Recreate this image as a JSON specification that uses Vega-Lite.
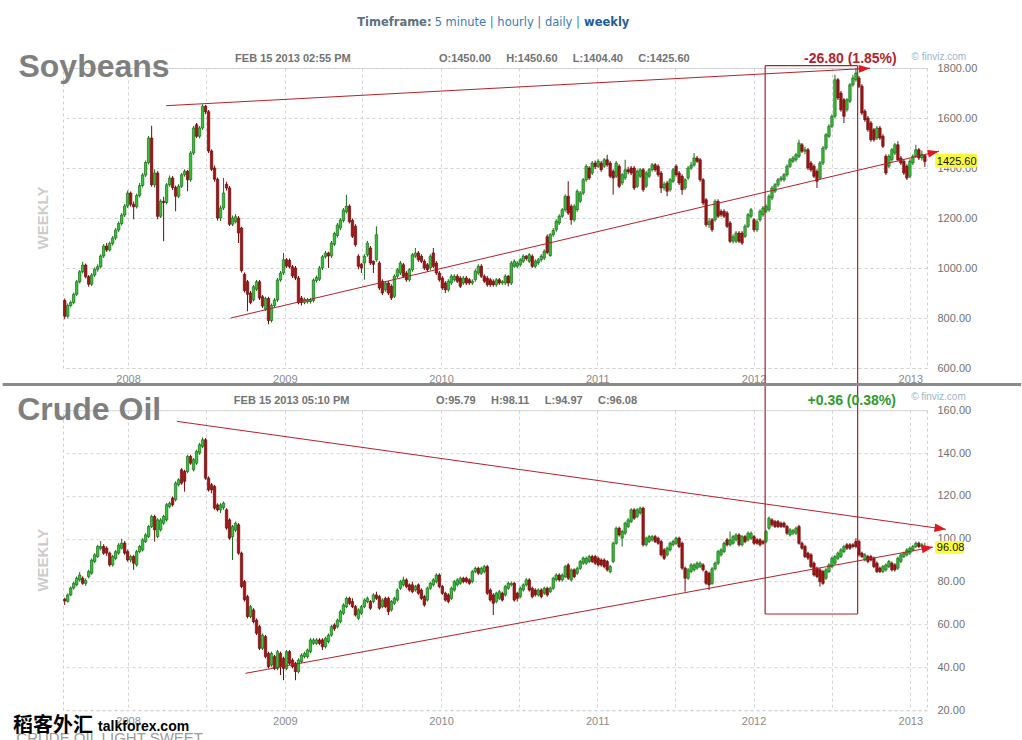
{
"$schema":"https://vega.github.io/schema/vega-lite/v6.json",
"padding":{"left":0,"top":16,"right":0,"bottom":0},
"background":"white",
"bounds":"flush",
"spacing":42.2,
"config":{"view":{"stroke":"#cfcfcf","strokeDash":[3,3],"strokeWidth":1}},
"datasets":{
"soy":[
{"d":"2007-08-06","o":870,"h":878,"l":795,"c":807},
{"d":"2007-08-13","o":807,"h":858,"l":800,"c":850},
{"d":"2007-08-20","o":850,"h":870,"l":842,"c":862},
{"d":"2007-08-27","o":862,"h":902,"l":855,"c":895},
{"d":"2007-09-03","o":895,"h":952,"l":888,"c":945},
{"d":"2007-09-10","o":945,"h":992,"l":938,"c":985},
{"d":"2007-09-17","o":985,"h":1025,"l":978,"c":1012},
{"d":"2007-09-24","o":1012,"h":1018,"l":958,"c":965},
{"d":"2007-10-01","o":965,"h":972,"l":925,"c":935},
{"d":"2007-10-08","o":935,"h":980,"l":928,"c":972},
{"d":"2007-10-15","o":972,"h":1002,"l":964,"c":995},
{"d":"2007-10-22","o":995,"h":1015,"l":985,"c":1005},
{"d":"2007-10-29","o":1005,"h":1055,"l":998,"c":1048},
{"d":"2007-11-05","o":1048,"h":1096,"l":1040,"c":1088},
{"d":"2007-11-12","o":1088,"h":1100,"l":1064,"c":1072},
{"d":"2007-11-19","o":1072,"h":1106,"l":1066,"c":1098},
{"d":"2007-11-26","o":1098,"h":1128,"l":1090,"c":1120},
{"d":"2007-12-03","o":1120,"h":1160,"l":1112,"c":1152},
{"d":"2007-12-10","o":1152,"h":1186,"l":1144,"c":1178},
{"d":"2007-12-17","o":1178,"h":1220,"l":1170,"c":1212},
{"d":"2007-12-24","o":1212,"h":1256,"l":1204,"c":1248},
{"d":"2007-12-31","o":1248,"h":1310,"l":1240,"c":1300},
{"d":"2008-01-07","o":1300,"h":1306,"l":1246,"c":1255},
{"d":"2008-01-14","o":1255,"h":1266,"l":1195,"c":1245},
{"d":"2008-01-21","o":1245,"h":1298,"l":1238,"c":1290},
{"d":"2008-01-28","o":1290,"h":1340,"l":1282,"c":1330},
{"d":"2008-02-04","o":1330,"h":1380,"l":1322,"c":1372},
{"d":"2008-02-11","o":1372,"h":1430,"l":1364,"c":1422},
{"d":"2008-02-18","o":1422,"h":1528,"l":1414,"c":1520},
{"d":"2008-02-25","o":1520,"h":1569,"l":1325,"c":1333},
{"d":"2008-03-03","o":1333,"h":1395,"l":1322,"c":1380},
{"d":"2008-03-10","o":1380,"h":1388,"l":1195,"c":1207},
{"d":"2008-03-17","o":1207,"h":1275,"l":1200,"c":1267},
{"d":"2008-03-24","o":1267,"h":1285,"l":1107,"c":1262},
{"d":"2008-03-31","o":1262,"h":1340,"l":1255,"c":1333},
{"d":"2008-04-07","o":1333,"h":1370,"l":1325,"c":1360},
{"d":"2008-04-14","o":1360,"h":1368,"l":1312,"c":1322},
{"d":"2008-04-21","o":1322,"h":1330,"l":1227,"c":1287},
{"d":"2008-04-28","o":1287,"h":1335,"l":1280,"c":1327},
{"d":"2008-05-05","o":1327,"h":1380,"l":1320,"c":1373},
{"d":"2008-05-12","o":1373,"h":1395,"l":1365,"c":1387},
{"d":"2008-05-19","o":1387,"h":1392,"l":1307,"c":1353},
{"d":"2008-05-26","o":1353,"h":1468,"l":1345,"c":1460},
{"d":"2008-06-02","o":1460,"h":1568,"l":1452,"c":1560},
{"d":"2008-06-09","o":1573,"h":1580,"l":1520,"c":1527},
{"d":"2008-06-16","o":1527,"h":1568,"l":1518,"c":1560},
{"d":"2008-06-23","o":1560,"h":1655,"l":1552,"c":1647},
{"d":"2008-06-30","o":1647,"h":1652,"l":1615,"c":1625},
{"d":"2008-07-07","o":1625,"h":1632,"l":1460,"c":1468},
{"d":"2008-07-14","o":1468,"h":1475,"l":1388,"c":1395},
{"d":"2008-07-21","o":1400,"h":1410,"l":1345,"c":1355},
{"d":"2008-07-28","o":1355,"h":1362,"l":1190,"c":1200},
{"d":"2008-08-04","o":1200,"h":1250,"l":1188,"c":1240},
{"d":"2008-08-11","o":1240,"h":1360,"l":1232,"c":1300},
{"d":"2008-08-18","o":1335,"h":1345,"l":1310,"c":1320},
{"d":"2008-08-25","o":1320,"h":1328,"l":1168,"c":1175},
{"d":"2008-09-01","o":1175,"h":1210,"l":1168,"c":1200},
{"d":"2008-09-08","o":1185,"h":1215,"l":1178,"c":1205},
{"d":"2008-09-15","o":1200,"h":1208,"l":1100,"c":1140},
{"d":"2008-09-22","o":1160,"h":1165,"l":982,"c":990},
{"d":"2008-09-29","o":975,"h":982,"l":902,"c":910},
{"d":"2008-10-06","o":945,"h":952,"l":827,"c":895},
{"d":"2008-10-13","o":900,"h":908,"l":855,"c":862},
{"d":"2008-10-20","o":873,"h":932,"l":866,"c":925},
{"d":"2008-10-27","o":915,"h":952,"l":908,"c":945},
{"d":"2008-11-03","o":945,"h":952,"l":872,"c":880},
{"d":"2008-11-10","o":885,"h":892,"l":840,"c":848},
{"d":"2008-11-17","o":835,"h":885,"l":828,"c":878},
{"d":"2008-11-24","o":878,"h":885,"l":775,"c":790},
{"d":"2008-12-01","o":790,"h":858,"l":782,"c":850},
{"d":"2008-12-08","o":850,"h":880,"l":842,"c":872},
{"d":"2008-12-15","o":872,"h":960,"l":865,"c":952},
{"d":"2008-12-22","o":952,"h":988,"l":945,"c":980},
{"d":"2008-12-29","o":980,"h":1060,"l":972,"c":1033},
{"d":"2009-01-05","o":1033,"h":1040,"l":1000,"c":1008},
{"d":"2009-01-12","o":1030,"h":1038,"l":998,"c":1005},
{"d":"2009-01-19","o":1005,"h":1012,"l":960,"c":968},
{"d":"2009-01-26","o":1000,"h":1008,"l":952,"c":960},
{"d":"2009-02-02","o":960,"h":968,"l":855,"c":862},
{"d":"2009-02-09","o":880,"h":888,"l":850,"c":862},
{"d":"2009-02-16","o":862,"h":882,"l":855,"c":875},
{"d":"2009-02-23","o":865,"h":880,"l":858,"c":873},
{"d":"2009-03-02","o":866,"h":880,"l":858,"c":872},
{"d":"2009-03-09","o":870,"h":958,"l":862,"c":952},
{"d":"2009-03-16","o":950,"h":970,"l":942,"c":962},
{"d":"2009-03-23","o":955,"h":1008,"l":948,"c":1000},
{"d":"2009-03-30","o":1000,"h":1052,"l":992,"c":1045},
{"d":"2009-04-06","o":1045,"h":1068,"l":1038,"c":1060},
{"d":"2009-04-13","o":1060,"h":1065,"l":1000,"c":1048},
{"d":"2009-04-20","o":1048,"h":1108,"l":1040,"c":1100},
{"d":"2009-04-27","o":1095,"h":1145,"l":1088,"c":1138},
{"d":"2009-05-04","o":1130,"h":1180,"l":1122,"c":1172},
{"d":"2009-05-11","o":1160,"h":1200,"l":1152,"c":1192},
{"d":"2009-05-18","o":1190,"h":1240,"l":1182,"c":1232},
{"d":"2009-05-25","o":1225,"h":1293,"l":1218,"c":1247},
{"d":"2009-06-01","o":1247,"h":1255,"l":1178,"c":1185},
{"d":"2009-06-08","o":1190,"h":1198,"l":1120,"c":1127},
{"d":"2009-06-15","o":1167,"h":1175,"l":1085,"c":1093},
{"d":"2009-06-22","o":1047,"h":1055,"l":995,"c":1007},
{"d":"2009-06-29","o":1015,"h":1020,"l":980,"c":1000},
{"d":"2009-07-06","o":1020,"h":1055,"l":953,"c":1047},
{"d":"2009-07-13","o":1053,"h":1108,"l":1045,"c":1100},
{"d":"2009-07-20","o":1080,"h":1088,"l":1012,"c":1020},
{"d":"2009-07-27","o":1027,"h":1030,"l":980,"c":1015},
{"d":"2009-08-03","o":1033,"h":1167,"l":1025,"c":1133},
{"d":"2009-08-10","o":1020,"h":1028,"l":912,"c":920},
{"d":"2009-08-17","o":947,"h":955,"l":892,"c":900},
{"d":"2009-08-24","o":913,"h":948,"l":905,"c":940},
{"d":"2009-08-31","o":940,"h":948,"l":892,"c":900},
{"d":"2009-09-07","o":927,"h":935,"l":872,"c":880},
{"d":"2009-09-14","o":887,"h":975,"l":880,"c":967},
{"d":"2009-09-21","o":967,"h":1000,"l":960,"c":993},
{"d":"2009-09-28","o":980,"h":1028,"l":972,"c":1020},
{"d":"2009-10-05","o":1013,"h":1020,"l":960,"c":967},
{"d":"2009-10-12","o":980,"h":988,"l":945,"c":953},
{"d":"2009-10-19","o":953,"h":1000,"l":945,"c":993},
{"d":"2009-10-26","o":993,"h":1060,"l":985,"c":1053},
{"d":"2009-11-02","o":1047,"h":1080,"l":1040,"c":1060},
{"d":"2009-11-09","o":1060,"h":1068,"l":1025,"c":1033},
{"d":"2009-11-16","o":1047,"h":1055,"l":1020,"c":1027},
{"d":"2009-11-23","o":1027,"h":1035,"l":992,"c":1000},
{"d":"2009-11-30","o":1013,"h":1020,"l":985,"c":993},
{"d":"2009-12-07","o":1000,"h":1055,"l":992,"c":1047},
{"d":"2009-12-14","o":1060,"h":1080,"l":1000,"c":1007},
{"d":"2009-12-21","o":1020,"h":1028,"l":972,"c":980},
{"d":"2009-12-28","o":980,"h":988,"l":945,"c":953},
{"d":"2010-01-04","o":960,"h":968,"l":912,"c":920},
{"d":"2010-01-11","o":940,"h":948,"l":900,"c":913},
{"d":"2010-01-18","o":913,"h":955,"l":905,"c":947},
{"d":"2010-01-25","o":940,"h":975,"l":932,"c":967},
{"d":"2010-02-01","o":953,"h":975,"l":945,"c":967},
{"d":"2010-02-08","o":967,"h":975,"l":940,"c":947},
{"d":"2010-02-15","o":960,"h":968,"l":920,"c":927},
{"d":"2010-02-22","o":940,"h":968,"l":932,"c":960},
{"d":"2010-03-01","o":960,"h":968,"l":932,"c":940},
{"d":"2010-03-08","o":953,"h":960,"l":932,"c":940},
{"d":"2010-03-15","o":940,"h":955,"l":932,"c":947},
{"d":"2010-03-22","o":953,"h":995,"l":945,"c":987},
{"d":"2010-03-29","o":980,"h":1015,"l":972,"c":1007},
{"d":"2010-04-05","o":1007,"h":1015,"l":960,"c":967},
{"d":"2010-04-12","o":967,"h":975,"l":940,"c":947},
{"d":"2010-04-19","o":960,"h":968,"l":925,"c":933},
{"d":"2010-04-26","o":953,"h":960,"l":925,"c":933},
{"d":"2010-05-03","o":947,"h":955,"l":925,"c":933},
{"d":"2010-05-10","o":933,"h":960,"l":925,"c":953},
{"d":"2010-05-17","o":953,"h":960,"l":932,"c":940},
{"d":"2010-05-24","o":940,"h":952,"l":932,"c":945},
{"d":"2010-05-31","o":940,"h":975,"l":932,"c":967},
{"d":"2010-06-07","o":967,"h":972,"l":927,"c":940},
{"d":"2010-06-14","o":940,"h":1028,"l":932,"c":1020},
{"d":"2010-06-21","o":1007,"h":1035,"l":1000,"c":1027},
{"d":"2010-06-28","o":1007,"h":1028,"l":1000,"c":1020},
{"d":"2010-07-05","o":1013,"h":1040,"l":1005,"c":1033},
{"d":"2010-07-12","o":1027,"h":1055,"l":1020,"c":1047},
{"d":"2010-07-19","o":1047,"h":1052,"l":1030,"c":1038},
{"d":"2010-07-26","o":1027,"h":1060,"l":1020,"c":1053},
{"d":"2010-08-02","o":1047,"h":1055,"l":1000,"c":1007},
{"d":"2010-08-09","o":1007,"h":1035,"l":1000,"c":1027},
{"d":"2010-08-16","o":1020,"h":1040,"l":1012,"c":1033},
{"d":"2010-08-23","o":1033,"h":1055,"l":1025,"c":1047},
{"d":"2010-08-30","o":1040,"h":1075,"l":1032,"c":1067},
{"d":"2010-09-06","o":1125,"h":1135,"l":1055,"c":1062},
{"d":"2010-09-13","o":1050,"h":1140,"l":1045,"c":1133},
{"d":"2010-09-20","o":1133,"h":1160,"l":1125,"c":1150},
{"d":"2010-09-27","o":1153,"h":1195,"l":1145,"c":1187},
{"d":"2010-10-04","o":1180,"h":1215,"l":1172,"c":1207},
{"d":"2010-10-11","o":1207,"h":1240,"l":1200,"c":1233},
{"d":"2010-10-18","o":1233,"h":1295,"l":1225,"c":1287},
{"d":"2010-10-25","o":1287,"h":1347,"l":1212,"c":1220},
{"d":"2010-11-01","o":1247,"h":1255,"l":1173,"c":1193},
{"d":"2010-11-08","o":1193,"h":1255,"l":1185,"c":1247},
{"d":"2010-11-15","o":1233,"h":1315,"l":1225,"c":1307},
{"d":"2010-11-22","o":1267,"h":1308,"l":1260,"c":1300},
{"d":"2010-11-29","o":1300,"h":1360,"l":1292,"c":1353},
{"d":"2010-12-06","o":1353,"h":1415,"l":1345,"c":1407},
{"d":"2010-12-13","o":1400,"h":1408,"l":1352,"c":1360},
{"d":"2010-12-20","o":1380,"h":1428,"l":1372,"c":1420},
{"d":"2010-12-27","o":1420,"h":1430,"l":1395,"c":1405},
{"d":"2011-01-03","o":1407,"h":1435,"l":1400,"c":1427},
{"d":"2011-01-10","o":1420,"h":1428,"l":1385,"c":1393},
{"d":"2011-01-17","o":1407,"h":1440,"l":1400,"c":1433},
{"d":"2011-01-24","o":1433,"h":1453,"l":1405,"c":1413},
{"d":"2011-01-31","o":1420,"h":1428,"l":1360,"c":1367},
{"d":"2011-02-07","o":1387,"h":1395,"l":1293,"c":1360},
{"d":"2011-02-14","o":1367,"h":1428,"l":1360,"c":1420},
{"d":"2011-02-21","o":1407,"h":1415,"l":1320,"c":1327},
{"d":"2011-02-28","o":1340,"h":1380,"l":1332,"c":1373},
{"d":"2011-03-07","o":1360,"h":1433,"l":1352,"c":1393},
{"d":"2011-03-14","o":1393,"h":1405,"l":1375,"c":1385},
{"d":"2011-03-21","o":1400,"h":1408,"l":1372,"c":1380},
{"d":"2011-03-28","o":1400,"h":1408,"l":1312,"c":1320},
{"d":"2011-04-04","o":1327,"h":1395,"l":1320,"c":1387},
{"d":"2011-04-11","o":1367,"h":1400,"l":1360,"c":1393},
{"d":"2011-04-18","o":1393,"h":1400,"l":1305,"c":1313},
{"d":"2011-04-25","o":1327,"h":1388,"l":1320,"c":1380},
{"d":"2011-05-02","o":1367,"h":1400,"l":1360,"c":1393},
{"d":"2011-05-09","o":1393,"h":1420,"l":1385,"c":1413},
{"d":"2011-05-16","o":1413,"h":1420,"l":1385,"c":1393},
{"d":"2011-05-23","o":1407,"h":1415,"l":1365,"c":1373},
{"d":"2011-05-30","o":1380,"h":1388,"l":1300,"c":1320},
{"d":"2011-06-06","o":1320,"h":1345,"l":1310,"c":1335},
{"d":"2011-06-13","o":1340,"h":1348,"l":1287,"c":1307},
{"d":"2011-06-20","o":1313,"h":1360,"l":1305,"c":1353},
{"d":"2011-06-27","o":1347,"h":1400,"l":1340,"c":1393},
{"d":"2011-07-04","o":1407,"h":1415,"l":1365,"c":1373},
{"d":"2011-07-11","o":1380,"h":1388,"l":1332,"c":1340},
{"d":"2011-07-18","o":1367,"h":1375,"l":1293,"c":1313},
{"d":"2011-07-25","o":1320,"h":1360,"l":1312,"c":1353},
{"d":"2011-08-01","o":1360,"h":1408,"l":1352,"c":1400},
{"d":"2011-08-08","o":1400,"h":1425,"l":1392,"c":1412},
{"d":"2011-08-15","o":1412,"h":1460,"l":1405,"c":1440},
{"d":"2011-08-22","o":1440,"h":1448,"l":1420,"c":1427},
{"d":"2011-08-29","o":1433,"h":1440,"l":1345,"c":1353},
{"d":"2011-09-05","o":1353,"h":1360,"l":1252,"c":1260},
{"d":"2011-09-12","o":1273,"h":1280,"l":1165,"c":1173},
{"d":"2011-09-19","o":1173,"h":1200,"l":1160,"c":1185},
{"d":"2011-09-26","o":1193,"h":1200,"l":1145,"c":1153},
{"d":"2011-10-03","o":1193,"h":1275,"l":1185,"c":1267},
{"d":"2011-10-10","o":1267,"h":1275,"l":1200,"c":1207},
{"d":"2011-10-17","o":1227,"h":1235,"l":1205,"c":1213},
{"d":"2011-10-24","o":1227,"h":1235,"l":1200,"c":1207},
{"d":"2011-10-31","o":1220,"h":1228,"l":1160,"c":1167},
{"d":"2011-11-07","o":1180,"h":1188,"l":1100,"c":1107},
{"d":"2011-11-14","o":1107,"h":1135,"l":1098,"c":1125},
{"d":"2011-11-21","o":1107,"h":1148,"l":1100,"c":1140},
{"d":"2011-11-28","o":1140,"h":1148,"l":1100,"c":1107},
{"d":"2011-12-05","o":1140,"h":1148,"l":1093,"c":1100},
{"d":"2011-12-12","o":1127,"h":1175,"l":1120,"c":1167},
{"d":"2011-12-19","o":1167,"h":1220,"l":1160,"c":1213},
{"d":"2011-12-26","o":1207,"h":1240,"l":1200,"c":1233},
{"d":"2012-01-02","o":1193,"h":1200,"l":1145,"c":1153},
{"d":"2012-01-09","o":1153,"h":1195,"l":1145,"c":1185},
{"d":"2012-01-16","o":1193,"h":1235,"l":1185,"c":1227},
{"d":"2012-01-23","o":1213,"h":1248,"l":1205,"c":1240},
{"d":"2012-01-30","o":1227,"h":1255,"l":1220,"c":1247},
{"d":"2012-02-06","o":1233,"h":1295,"l":1225,"c":1287},
{"d":"2012-02-13","o":1280,"h":1328,"l":1272,"c":1320},
{"d":"2012-02-20","o":1307,"h":1340,"l":1300,"c":1333},
{"d":"2012-02-27","o":1333,"h":1360,"l":1325,"c":1353},
{"d":"2012-03-05","o":1353,"h":1368,"l":1345,"c":1360},
{"d":"2012-03-12","o":1353,"h":1380,"l":1345,"c":1373},
{"d":"2012-03-19","o":1373,"h":1415,"l":1365,"c":1407},
{"d":"2012-03-26","o":1407,"h":1440,"l":1400,"c":1433},
{"d":"2012-04-02","o":1427,"h":1448,"l":1420,"c":1440},
{"d":"2012-04-09","o":1433,"h":1460,"l":1425,"c":1453},
{"d":"2012-04-16","o":1447,"h":1513,"l":1440,"c":1500},
{"d":"2012-04-23","o":1493,"h":1500,"l":1460,"c":1467},
{"d":"2012-04-30","o":1467,"h":1485,"l":1455,"c":1473},
{"d":"2012-05-07","o":1473,"h":1480,"l":1392,"c":1400},
{"d":"2012-05-14","o":1420,"h":1428,"l":1385,"c":1393},
{"d":"2012-05-21","o":1407,"h":1415,"l":1360,"c":1367},
{"d":"2012-05-28","o":1387,"h":1395,"l":1320,"c":1347},
{"d":"2012-06-04","o":1360,"h":1428,"l":1352,"c":1420},
{"d":"2012-06-11","o":1420,"h":1488,"l":1412,"c":1480},
{"d":"2012-06-18","o":1480,"h":1540,"l":1472,"c":1533},
{"d":"2012-06-25","o":1527,"h":1575,"l":1520,"c":1567},
{"d":"2012-07-02","o":1567,"h":1615,"l":1560,"c":1607},
{"d":"2012-07-09","o":1607,"h":1773,"l":1600,"c":1753},
{"d":"2012-07-16","o":1753,"h":1760,"l":1672,"c":1680},
{"d":"2012-07-23","o":1700,"h":1708,"l":1625,"c":1633},
{"d":"2012-07-30","o":1673,"h":1680,"l":1580,"c":1607},
{"d":"2012-08-06","o":1633,"h":1680,"l":1625,"c":1673},
{"d":"2012-08-13","o":1667,"h":1740,"l":1660,"c":1733},
{"d":"2012-08-20","o":1733,"h":1773,"l":1725,"c":1760},
{"d":"2012-08-27","o":1753,"h":1800,"l":1745,"c":1780},
{"d":"2012-09-03","o":1760,"h":1768,"l":1720,"c":1727},
{"d":"2012-09-10","o":1727,"h":1735,"l":1612,"c":1620},
{"d":"2012-09-17","o":1627,"h":1635,"l":1585,"c":1593},
{"d":"2012-09-24","o":1600,"h":1608,"l":1545,"c":1553},
{"d":"2012-10-01","o":1580,"h":1588,"l":1505,"c":1513},
{"d":"2012-10-08","o":1553,"h":1560,"l":1505,"c":1513},
{"d":"2012-10-15","o":1520,"h":1568,"l":1512,"c":1560},
{"d":"2012-10-22","o":1560,"h":1568,"l":1512,"c":1520},
{"d":"2012-10-29","o":1527,"h":1535,"l":1480,"c":1487},
{"d":"2012-11-05","o":1447,"h":1455,"l":1372,"c":1380},
{"d":"2012-11-12","o":1407,"h":1455,"l":1400,"c":1447},
{"d":"2012-11-19","o":1433,"h":1480,"l":1425,"c":1473},
{"d":"2012-11-26","o":1460,"h":1500,"l":1452,"c":1493},
{"d":"2012-12-03","o":1493,"h":1507,"l":1425,"c":1433},
{"d":"2012-12-10","o":1440,"h":1448,"l":1412,"c":1420},
{"d":"2012-12-17","o":1427,"h":1435,"l":1372,"c":1380},
{"d":"2012-12-24","o":1407,"h":1415,"l":1352,"c":1360},
{"d":"2012-12-31","o":1367,"h":1435,"l":1360,"c":1427},
{"d":"2013-01-07","o":1420,"h":1455,"l":1412,"c":1447},
{"d":"2013-01-14","o":1447,"h":1493,"l":1440,"c":1473},
{"d":"2013-01-21","o":1473,"h":1480,"l":1432,"c":1440},
{"d":"2013-01-28","o":1440,"h":1470,"l":1430,"c":1455},
{"d":"2013-02-04","o":1450,"h":1450.6,"l":1404.4,"c":1425.6}
],
"oil":[
{"d":"2007-08-06","o":71.8,"h":72.5,"l":69.1,"c":71.0},
{"d":"2007-08-13","o":70.8,"h":74.5,"l":70.2,"c":73.8},
{"d":"2007-08-20","o":73.8,"h":77.8,"l":73.2,"c":77.0},
{"d":"2007-08-27","o":77.0,"h":80.0,"l":76.2,"c":79.2},
{"d":"2007-09-03","o":78.5,"h":82.4,"l":77.8,"c":81.6},
{"d":"2007-09-10","o":80.8,"h":84.5,"l":80.0,"c":83.1},
{"d":"2007-09-17","o":81.6,"h":82.5,"l":78.5,"c":79.2},
{"d":"2007-09-24","o":79.2,"h":81.5,"l":78.0,"c":80.5},
{"d":"2007-10-01","o":82.3,"h":85.5,"l":81.5,"c":84.7},
{"d":"2007-10-08","o":83.9,"h":90.8,"l":83.2,"c":90.1},
{"d":"2007-10-15","o":89.4,"h":93.3,"l":88.6,"c":92.5},
{"d":"2007-10-22","o":91.7,"h":97.2,"l":91.0,"c":96.4},
{"d":"2007-10-29","o":95.5,"h":99.0,"l":94.5,"c":96.4},
{"d":"2007-11-05","o":96.4,"h":97.5,"l":92.5,"c":93.3},
{"d":"2007-11-12","o":95.6,"h":96.5,"l":92.0,"c":93.3},
{"d":"2007-11-19","o":93.3,"h":94.0,"l":87.0,"c":87.8},
{"d":"2007-11-26","o":87.8,"h":92.5,"l":87.0,"c":91.7},
{"d":"2007-12-03","o":90.9,"h":94.8,"l":90.0,"c":94.0},
{"d":"2007-12-10","o":93.3,"h":98.0,"l":92.5,"c":97.1},
{"d":"2007-12-17","o":95.6,"h":100.0,"l":95.0,"c":98.0},
{"d":"2007-12-24","o":98.0,"h":99.0,"l":92.5,"c":93.3},
{"d":"2007-12-31","o":94.0,"h":95.0,"l":89.3,"c":90.1},
{"d":"2008-01-07","o":90.1,"h":92.5,"l":89.0,"c":91.7},
{"d":"2008-01-14","o":91.7,"h":92.5,"l":85.5,"c":88.6},
{"d":"2008-01-21","o":87.8,"h":94.8,"l":87.0,"c":94.0},
{"d":"2008-01-28","o":94.0,"h":97.2,"l":93.3,"c":96.4},
{"d":"2008-02-04","o":94.8,"h":100.3,"l":94.0,"c":99.5},
{"d":"2008-02-11","o":98.7,"h":102.6,"l":98.0,"c":101.8},
{"d":"2008-02-18","o":101.0,"h":106.5,"l":100.3,"c":105.7},
{"d":"2008-02-25","o":105.7,"h":111.2,"l":105.0,"c":110.4},
{"d":"2008-03-03","o":110.4,"h":111.2,"l":98.7,"c":104.2},
{"d":"2008-03-10","o":101.0,"h":109.6,"l":100.3,"c":108.8},
{"d":"2008-03-17","o":104.2,"h":109.6,"l":103.4,"c":108.8},
{"d":"2008-03-24","o":107.3,"h":111.2,"l":106.5,"c":110.4},
{"d":"2008-03-31","o":108.8,"h":116.7,"l":108.0,"c":115.9},
{"d":"2008-04-07","o":115.0,"h":117.4,"l":114.2,"c":116.6},
{"d":"2008-04-14","o":119.0,"h":119.8,"l":115.0,"c":115.9},
{"d":"2008-04-21","o":118.2,"h":126.8,"l":117.4,"c":126.0},
{"d":"2008-04-28","o":125.2,"h":128.3,"l":124.4,"c":127.5},
{"d":"2008-05-05","o":132.2,"h":133.0,"l":125.2,"c":126.0},
{"d":"2008-05-12","o":131.4,"h":132.2,"l":122.0,"c":126.8},
{"d":"2008-05-19","o":131.4,"h":139.2,"l":130.6,"c":138.4},
{"d":"2008-05-26","o":138.4,"h":139.2,"l":134.5,"c":135.3},
{"d":"2008-06-02","o":132.2,"h":137.7,"l":131.4,"c":136.9},
{"d":"2008-06-09","o":135.3,"h":141.6,"l":134.5,"c":140.8},
{"d":"2008-06-16","o":140.0,"h":144.7,"l":139.2,"c":143.9},
{"d":"2008-06-23","o":143.1,"h":147.3,"l":142.3,"c":146.2},
{"d":"2008-06-30","o":146.2,"h":147.0,"l":127.5,"c":128.3},
{"d":"2008-07-07","o":128.3,"h":129.1,"l":122.0,"c":122.8},
{"d":"2008-07-14","o":125.2,"h":126.0,"l":121.2,"c":122.8},
{"d":"2008-07-21","o":124.4,"h":125.2,"l":113.5,"c":114.3},
{"d":"2008-07-28","o":115.8,"h":116.6,"l":112.7,"c":113.5},
{"d":"2008-08-04","o":113.5,"h":116.6,"l":112.0,"c":115.8},
{"d":"2008-08-11","o":114.5,"h":117.4,"l":113.5,"c":116.6},
{"d":"2008-08-18","o":113.5,"h":114.3,"l":104.2,"c":105.0},
{"d":"2008-08-25","o":108.8,"h":109.6,"l":99.5,"c":100.3},
{"d":"2008-09-01","o":101.0,"h":106.5,"l":90.1,"c":105.7},
{"d":"2008-09-08","o":104.0,"h":108.0,"l":103.2,"c":107.3},
{"d":"2008-09-15","o":106.5,"h":107.3,"l":92.5,"c":93.3},
{"d":"2008-09-22","o":93.3,"h":94.0,"l":76.9,"c":77.7},
{"d":"2008-09-29","o":80.0,"h":80.8,"l":70.7,"c":71.5},
{"d":"2008-10-06","o":73.0,"h":73.8,"l":62.9,"c":63.7},
{"d":"2008-10-13","o":63.7,"h":69.1,"l":62.9,"c":68.3},
{"d":"2008-10-20","o":66.8,"h":67.6,"l":60.5,"c":61.3},
{"d":"2008-10-27","o":62.0,"h":62.8,"l":55.1,"c":55.9},
{"d":"2008-11-03","o":59.0,"h":59.8,"l":48.1,"c":48.9},
{"d":"2008-11-10","o":48.9,"h":55.8,"l":48.1,"c":55.0},
{"d":"2008-11-17","o":54.3,"h":55.1,"l":44.2,"c":45.0},
{"d":"2008-11-24","o":46.5,"h":47.3,"l":39.5,"c":40.3},
{"d":"2008-12-01","o":41.1,"h":47.3,"l":40.3,"c":46.5},
{"d":"2008-12-08","o":45.0,"h":45.8,"l":38.7,"c":39.5},
{"d":"2008-12-15","o":39.5,"h":48.1,"l":38.7,"c":47.3},
{"d":"2008-12-22","o":46.5,"h":47.3,"l":36.4,"c":40.3},
{"d":"2008-12-29","o":44.2,"h":45.0,"l":34.0,"c":39.5},
{"d":"2009-01-05","o":39.5,"h":48.1,"l":38.7,"c":47.3},
{"d":"2009-01-12","o":47.3,"h":48.1,"l":41.1,"c":41.9},
{"d":"2009-01-19","o":43.4,"h":44.2,"l":39.5,"c":40.3},
{"d":"2009-01-26","o":41.9,"h":42.6,"l":34.0,"c":38.0},
{"d":"2009-02-02","o":38.0,"h":44.2,"l":37.2,"c":43.4},
{"d":"2009-02-09","o":42.6,"h":46.5,"l":41.9,"c":45.7},
{"d":"2009-02-16","o":45.0,"h":47.3,"l":44.2,"c":46.5},
{"d":"2009-02-23","o":45.0,"h":48.8,"l":44.2,"c":48.1},
{"d":"2009-03-02","o":47.3,"h":53.6,"l":46.5,"c":52.8},
{"d":"2009-03-09","o":51.2,"h":53.6,"l":50.4,"c":52.8},
{"d":"2009-03-16","o":51.2,"h":53.6,"l":50.4,"c":52.8},
{"d":"2009-03-23","o":52.8,"h":53.6,"l":50.4,"c":51.2},
{"d":"2009-03-30","o":52.8,"h":53.6,"l":48.1,"c":49.6},
{"d":"2009-04-06","o":49.6,"h":54.3,"l":48.8,"c":53.5},
{"d":"2009-04-13","o":52.0,"h":55.8,"l":51.2,"c":55.0},
{"d":"2009-04-20","o":55.0,"h":59.8,"l":54.3,"c":59.0},
{"d":"2009-04-27","o":59.8,"h":60.6,"l":57.0,"c":58.0},
{"d":"2009-05-04","o":59.0,"h":62.8,"l":58.2,"c":62.0},
{"d":"2009-05-11","o":61.3,"h":66.8,"l":60.5,"c":66.0},
{"d":"2009-05-18","o":65.2,"h":69.9,"l":64.4,"c":69.1},
{"d":"2009-05-25","o":68.3,"h":73.0,"l":67.6,"c":72.2},
{"d":"2009-06-01","o":72.2,"h":73.0,"l":69.1,"c":69.9},
{"d":"2009-06-08","o":70.7,"h":72.2,"l":67.6,"c":68.3},
{"d":"2009-06-15","o":68.3,"h":69.1,"l":63.7,"c":64.4},
{"d":"2009-06-22","o":62.9,"h":67.6,"l":62.1,"c":66.8},
{"d":"2009-06-29","o":65.2,"h":69.1,"l":64.4,"c":68.3},
{"d":"2009-07-06","o":68.3,"h":72.2,"l":67.6,"c":71.4},
{"d":"2009-07-13","o":70.7,"h":73.0,"l":69.9,"c":72.2},
{"d":"2009-07-20","o":70.7,"h":71.4,"l":66.8,"c":67.6},
{"d":"2009-07-27","o":70.7,"h":74.6,"l":69.9,"c":73.8},
{"d":"2009-08-03","o":73.8,"h":75.3,"l":71.4,"c":72.2},
{"d":"2009-08-10","o":73.0,"h":73.8,"l":66.8,"c":67.6},
{"d":"2009-08-17","o":68.3,"h":72.2,"l":67.6,"c":71.4},
{"d":"2009-08-24","o":72.2,"h":73.0,"l":67.6,"c":68.3},
{"d":"2009-08-31","o":72.2,"h":73.0,"l":64.4,"c":66.0},
{"d":"2009-09-07","o":66.8,"h":71.4,"l":66.0,"c":70.7},
{"d":"2009-09-14","o":69.9,"h":73.0,"l":69.1,"c":72.2},
{"d":"2009-09-21","o":71.4,"h":76.9,"l":70.7,"c":76.1},
{"d":"2009-09-28","o":76.9,"h":80.8,"l":76.1,"c":80.0},
{"d":"2009-10-05","o":78.5,"h":82.3,"l":77.7,"c":80.8},
{"d":"2009-10-12","o":80.8,"h":81.6,"l":76.9,"c":77.7},
{"d":"2009-10-19","o":78.5,"h":79.2,"l":75.3,"c":76.1},
{"d":"2009-10-26","o":78.5,"h":80.0,"l":74.6,"c":75.3},
{"d":"2009-11-02","o":76.1,"h":78.5,"l":75.3,"c":77.7},
{"d":"2009-11-09","o":78.5,"h":79.2,"l":73.8,"c":74.6},
{"d":"2009-11-16","o":76.1,"h":76.9,"l":71.4,"c":72.2},
{"d":"2009-11-23","o":73.0,"h":73.8,"l":68.3,"c":69.1},
{"d":"2009-11-30","o":71.4,"h":77.7,"l":70.7,"c":76.9},
{"d":"2009-12-07","o":76.9,"h":80.0,"l":76.1,"c":79.2},
{"d":"2009-12-14","o":78.5,"h":81.6,"l":77.7,"c":80.8},
{"d":"2009-12-21","o":80.0,"h":83.9,"l":79.2,"c":83.1},
{"d":"2009-12-28","o":83.1,"h":83.9,"l":76.9,"c":77.7},
{"d":"2010-01-04","o":77.7,"h":78.5,"l":73.8,"c":74.6},
{"d":"2010-01-11","o":74.6,"h":75.3,"l":70.7,"c":71.4},
{"d":"2010-01-18","o":73.8,"h":74.6,"l":69.9,"c":70.7},
{"d":"2010-01-25","o":72.2,"h":77.7,"l":71.4,"c":76.9},
{"d":"2010-02-01","o":76.1,"h":80.8,"l":75.3,"c":80.0},
{"d":"2010-02-08","o":78.5,"h":81.6,"l":77.7,"c":80.8},
{"d":"2010-02-15","o":79.2,"h":82.3,"l":78.5,"c":81.6},
{"d":"2010-02-22","o":81.6,"h":82.3,"l":79.2,"c":80.0},
{"d":"2010-03-01","o":81.6,"h":82.3,"l":79.2,"c":80.0},
{"d":"2010-03-08","o":80.8,"h":81.6,"l":78.5,"c":79.2},
{"d":"2010-03-15","o":80.0,"h":85.5,"l":79.2,"c":84.7},
{"d":"2010-03-22","o":84.7,"h":87.0,"l":83.9,"c":86.2},
{"d":"2010-03-29","o":86.2,"h":87.0,"l":83.1,"c":83.9},
{"d":"2010-04-05","o":83.9,"h":87.0,"l":83.1,"c":86.2},
{"d":"2010-04-12","o":84.7,"h":87.8,"l":83.9,"c":87.0},
{"d":"2010-04-19","o":87.0,"h":87.8,"l":73.8,"c":74.6},
{"d":"2010-04-26","o":76.1,"h":76.9,"l":70.7,"c":71.4},
{"d":"2010-05-03","o":73.8,"h":74.6,"l":64.4,"c":69.9},
{"d":"2010-05-10","o":70.7,"h":75.3,"l":69.9,"c":74.6},
{"d":"2010-05-17","o":72.2,"h":76.1,"l":71.4,"c":75.3},
{"d":"2010-05-24","o":74.6,"h":75.3,"l":70.7,"c":71.4},
{"d":"2010-05-31","o":73.8,"h":78.5,"l":73.0,"c":77.7},
{"d":"2010-06-07","o":76.9,"h":80.0,"l":76.1,"c":79.2},
{"d":"2010-06-14","o":78.5,"h":80.0,"l":77.7,"c":79.2},
{"d":"2010-06-21","o":79.2,"h":80.0,"l":70.7,"c":71.4},
{"d":"2010-06-28","o":74.6,"h":75.3,"l":70.7,"c":72.2},
{"d":"2010-07-05","o":73.0,"h":77.7,"l":72.2,"c":76.9},
{"d":"2010-07-12","o":76.1,"h":79.2,"l":75.3,"c":78.5},
{"d":"2010-07-19","o":78.5,"h":81.6,"l":77.7,"c":80.8},
{"d":"2010-07-26","o":80.8,"h":81.6,"l":75.3,"c":76.1},
{"d":"2010-08-02","o":76.9,"h":77.7,"l":72.2,"c":73.0},
{"d":"2010-08-09","o":76.1,"h":76.9,"l":73.0,"c":73.8},
{"d":"2010-08-16","o":73.8,"h":76.9,"l":73.0,"c":76.1},
{"d":"2010-08-23","o":76.1,"h":76.9,"l":72.2,"c":73.0},
{"d":"2010-08-30","o":74.6,"h":77.7,"l":73.8,"c":76.9},
{"d":"2010-09-06","o":76.9,"h":77.7,"l":73.0,"c":73.8},
{"d":"2010-09-13","o":75.3,"h":77.7,"l":74.6,"c":76.9},
{"d":"2010-09-20","o":76.9,"h":82.3,"l":76.1,"c":81.6},
{"d":"2010-09-27","o":80.8,"h":83.9,"l":80.0,"c":83.1},
{"d":"2010-10-04","o":83.1,"h":83.9,"l":80.0,"c":80.8},
{"d":"2010-10-11","o":80.8,"h":83.9,"l":80.0,"c":83.1},
{"d":"2010-10-18","o":82.3,"h":87.8,"l":81.6,"c":87.0},
{"d":"2010-10-25","o":87.8,"h":88.6,"l":80.8,"c":81.6},
{"d":"2010-11-01","o":80.8,"h":86.2,"l":80.0,"c":85.5},
{"d":"2010-11-08","o":85.5,"h":86.2,"l":81.6,"c":82.3},
{"d":"2010-11-15","o":83.9,"h":87.0,"l":83.1,"c":86.2},
{"d":"2010-11-22","o":86.2,"h":90.1,"l":85.5,"c":89.4},
{"d":"2010-11-29","o":88.6,"h":91.7,"l":87.8,"c":91.0},
{"d":"2010-12-06","o":88.6,"h":91.7,"l":87.8,"c":90.9},
{"d":"2010-12-13","o":89.4,"h":92.5,"l":88.6,"c":91.7},
{"d":"2010-12-20","o":91.7,"h":92.5,"l":88.6,"c":89.4},
{"d":"2010-12-27","o":91.7,"h":92.5,"l":87.8,"c":88.6},
{"d":"2011-01-03","o":90.9,"h":91.7,"l":87.0,"c":87.8},
{"d":"2011-01-10","o":90.1,"h":90.9,"l":87.0,"c":87.8},
{"d":"2011-01-17","o":90.1,"h":90.9,"l":86.2,"c":87.0},
{"d":"2011-01-24","o":89.4,"h":90.1,"l":84.7,"c":85.5},
{"d":"2011-01-31","o":84.7,"h":87.8,"l":83.9,"c":87.0},
{"d":"2011-02-07","o":89.4,"h":98.7,"l":88.6,"c":97.9},
{"d":"2011-02-14","o":97.9,"h":105.7,"l":97.2,"c":104.9},
{"d":"2011-02-21","o":104.9,"h":105.7,"l":101.0,"c":101.8},
{"d":"2011-02-28","o":100.3,"h":104.2,"l":96.4,"c":103.4},
{"d":"2011-03-07","o":102.6,"h":108.0,"l":101.8,"c":107.3},
{"d":"2011-03-14","o":105.7,"h":109.6,"l":105.0,"c":108.8},
{"d":"2011-03-21","o":108.0,"h":114.3,"l":107.3,"c":113.5},
{"d":"2011-03-28","o":113.5,"h":114.3,"l":108.8,"c":109.6},
{"d":"2011-04-04","o":110.4,"h":114.3,"l":109.6,"c":113.5},
{"d":"2011-04-11","o":112.0,"h":115.0,"l":111.2,"c":114.3},
{"d":"2011-04-18","o":114.3,"h":115.0,"l":96.4,"c":97.2},
{"d":"2011-04-25","o":97.2,"h":101.0,"l":96.4,"c":100.3},
{"d":"2011-05-02","o":98.7,"h":101.8,"l":98.0,"c":101.0},
{"d":"2011-05-09","o":99.5,"h":101.8,"l":98.7,"c":101.0},
{"d":"2011-05-16","o":101.0,"h":101.8,"l":98.0,"c":98.7},
{"d":"2011-05-23","o":100.3,"h":101.0,"l":97.2,"c":97.9},
{"d":"2011-05-30","o":98.7,"h":99.5,"l":91.7,"c":92.5},
{"d":"2011-06-06","o":94.8,"h":95.6,"l":90.1,"c":90.9},
{"d":"2011-06-13","o":92.5,"h":96.4,"l":91.7,"c":95.6},
{"d":"2011-06-20","o":94.8,"h":98.7,"l":94.0,"c":97.9},
{"d":"2011-06-27","o":97.2,"h":99.5,"l":96.4,"c":98.7},
{"d":"2011-07-04","o":97.9,"h":101.0,"l":97.2,"c":100.3},
{"d":"2011-07-11","o":100.3,"h":101.0,"l":95.6,"c":96.4},
{"d":"2011-07-18","o":97.9,"h":98.7,"l":85.5,"c":86.3},
{"d":"2011-07-25","o":86.3,"h":87.0,"l":75.3,"c":81.6},
{"d":"2011-08-01","o":81.6,"h":86.3,"l":80.8,"c":85.5},
{"d":"2011-08-08","o":84.7,"h":88.6,"l":84.0,"c":87.8},
{"d":"2011-08-15","o":85.5,"h":88.6,"l":84.7,"c":87.8},
{"d":"2011-08-22","o":86.3,"h":89.4,"l":85.5,"c":88.6},
{"d":"2011-08-29","o":87.0,"h":89.4,"l":86.3,"c":88.6},
{"d":"2011-09-05","o":87.8,"h":88.6,"l":84.7,"c":85.5},
{"d":"2011-09-12","o":84.7,"h":85.5,"l":78.5,"c":79.2},
{"d":"2011-09-19","o":83.9,"h":84.7,"l":76.1,"c":78.5},
{"d":"2011-09-26","o":79.2,"h":86.8,"l":78.5,"c":86.0},
{"d":"2011-10-03","o":86.0,"h":89.4,"l":85.2,"c":88.6},
{"d":"2011-10-10","o":88.6,"h":94.8,"l":87.8,"c":94.0},
{"d":"2011-10-17","o":92.5,"h":95.6,"l":91.7,"c":94.8},
{"d":"2011-10-24","o":94.0,"h":98.7,"l":93.3,"c":97.9},
{"d":"2011-10-31","o":99.5,"h":100.3,"l":96.4,"c":97.2},
{"d":"2011-11-07","o":97.2,"h":103.4,"l":96.4,"c":99.5},
{"d":"2011-11-14","o":97.9,"h":101.8,"l":97.2,"c":101.0},
{"d":"2011-11-21","o":99.5,"h":102.6,"l":98.7,"c":101.8},
{"d":"2011-11-28","o":101.8,"h":102.6,"l":96.4,"c":97.2},
{"d":"2011-12-05","o":97.2,"h":101.8,"l":96.4,"c":101.0},
{"d":"2011-12-12","o":101.0,"h":101.8,"l":97.9,"c":98.7},
{"d":"2011-12-19","o":99.5,"h":103.4,"l":98.7,"c":102.6},
{"d":"2011-12-26","o":100.3,"h":103.4,"l":99.5,"c":102.6},
{"d":"2012-01-02","o":101.0,"h":101.8,"l":97.2,"c":97.9},
{"d":"2012-01-09","o":99.5,"h":100.3,"l":97.2,"c":97.9},
{"d":"2012-01-16","o":99.5,"h":100.3,"l":96.4,"c":97.2},
{"d":"2012-01-23","o":98.7,"h":99.5,"l":97.2,"c":97.9},
{"d":"2012-01-30","o":98.7,"h":104.2,"l":97.9,"c":103.4},
{"d":"2012-02-06","o":104.9,"h":110.4,"l":104.2,"c":109.6},
{"d":"2012-02-13","o":108.8,"h":109.6,"l":105.7,"c":106.5},
{"d":"2012-02-20","o":108.0,"h":108.8,"l":105.0,"c":105.7},
{"d":"2012-02-27","o":108.0,"h":108.8,"l":105.0,"c":105.7},
{"d":"2012-03-05","o":107.3,"h":108.0,"l":105.0,"c":105.7},
{"d":"2012-03-12","o":107.3,"h":108.0,"l":105.0,"c":105.7},
{"d":"2012-03-19","o":105.7,"h":106.5,"l":101.8,"c":102.6},
{"d":"2012-03-26","o":101.8,"h":105.0,"l":101.0,"c":104.2},
{"d":"2012-04-02","o":102.6,"h":104.6,"l":101.8,"c":103.8},
{"d":"2012-04-09","o":102.6,"h":105.7,"l":101.8,"c":104.9},
{"d":"2012-04-16","o":105.7,"h":106.5,"l":97.2,"c":97.9},
{"d":"2012-04-23","o":97.9,"h":98.7,"l":94.8,"c":95.6},
{"d":"2012-04-30","o":96.4,"h":97.2,"l":91.0,"c":91.7},
{"d":"2012-05-07","o":93.3,"h":94.0,"l":90.1,"c":91.0},
{"d":"2012-05-14","o":92.5,"h":93.3,"l":86.3,"c":87.0},
{"d":"2012-05-21","o":88.6,"h":89.4,"l":82.4,"c":83.1},
{"d":"2012-05-28","o":86.3,"h":87.0,"l":81.6,"c":82.4},
{"d":"2012-06-04","o":85.5,"h":86.3,"l":77.7,"c":80.0},
{"d":"2012-06-11","o":84.7,"h":85.5,"l":78.5,"c":79.2},
{"d":"2012-06-18","o":81.6,"h":86.3,"l":80.8,"c":85.5},
{"d":"2012-06-25","o":84.7,"h":88.6,"l":84.0,"c":87.8},
{"d":"2012-07-02","o":87.0,"h":91.7,"l":86.3,"c":90.9},
{"d":"2012-07-09","o":88.6,"h":92.5,"l":87.8,"c":91.7},
{"d":"2012-07-16","o":90.9,"h":94.0,"l":90.1,"c":93.3},
{"d":"2012-07-23","o":91.7,"h":95.6,"l":91.0,"c":94.8},
{"d":"2012-07-30","o":94.0,"h":97.2,"l":93.3,"c":96.4},
{"d":"2012-08-06","o":97.2,"h":98.0,"l":94.8,"c":95.6},
{"d":"2012-08-13","o":97.2,"h":98.0,"l":94.8,"c":95.6},
{"d":"2012-08-20","o":97.2,"h":98.0,"l":95.6,"c":96.4},
{"d":"2012-08-27","o":98.7,"h":100.3,"l":95.6,"c":96.4},
{"d":"2012-09-03","o":98.7,"h":99.5,"l":91.7,"c":92.5},
{"d":"2012-09-10","o":93.3,"h":94.0,"l":91.0,"c":91.7},
{"d":"2012-09-17","o":90.1,"h":93.3,"l":89.4,"c":92.5},
{"d":"2012-09-24","o":91.7,"h":92.5,"l":88.6,"c":89.4},
{"d":"2012-10-01","o":91.7,"h":92.5,"l":89.4,"c":90.1},
{"d":"2012-10-08","o":90.9,"h":91.7,"l":86.3,"c":87.0},
{"d":"2012-10-15","o":88.6,"h":89.4,"l":84.0,"c":84.7},
{"d":"2012-10-22","o":86.3,"h":87.0,"l":84.0,"c":84.7},
{"d":"2012-10-29","o":84.7,"h":87.8,"l":84.0,"c":87.0},
{"d":"2012-11-05","o":85.5,"h":88.6,"l":84.7,"c":87.8},
{"d":"2012-11-12","o":87.0,"h":90.1,"l":86.3,"c":89.4},
{"d":"2012-11-19","o":88.6,"h":89.4,"l":84.7,"c":85.5},
{"d":"2012-11-26","o":87.8,"h":88.6,"l":84.7,"c":85.5},
{"d":"2012-12-03","o":86.3,"h":91.7,"l":85.5,"c":90.9},
{"d":"2012-12-10","o":89.4,"h":93.3,"l":88.6,"c":92.5},
{"d":"2012-12-17","o":91.7,"h":94.0,"l":91.0,"c":93.3},
{"d":"2012-12-24","o":92.5,"h":95.6,"l":91.7,"c":94.8},
{"d":"2012-12-31","o":93.3,"h":96.4,"l":92.5,"c":95.6},
{"d":"2013-01-07","o":94.8,"h":97.2,"l":94.0,"c":96.4},
{"d":"2013-01-14","o":96.4,"h":98.7,"l":95.6,"c":97.9},
{"d":"2013-01-21","o":97.9,"h":98.7,"l":95.6,"c":96.4},
{"d":"2013-01-28","o":96.4,"h":98.0,"l":95.6,"c":97.2},
{"d":"2013-02-04","o":95.79,"h":98.11,"l":94.97,"c":96.08}
],
"soyLines":[
{"d":"2008-03-30","v":1649.2,"d2":"2012-09-29","v2":1799},
{"d":"2008-08-28","v":800,"d2":"2013-03-09","v2":1467.2}
],
"soyBox":[
{"d":"2012-01-28","v":1809.2,"d2":"2012-08-31","v2":1809.2},
{"d":"2012-01-28","v":1809.2,"d2":"2012-01-28","v2":431.2},
{"d":"2012-08-31","v":1809.2,"d2":"2012-08-31","v2":431.2}
],
"oilLines":[
{"d":"2008-04-24","v":154.8,"d2":"2013-03-25","v2":104.4},
{"d":"2008-10-01","v":37.2,"d2":"2013-02-23","v2":96.1}
],
"oilBox":[
{"d":"2012-01-28","v":160,"d2":"2012-01-28","v2":64.9},
{"d":"2012-08-31","v":160,"d2":"2012-08-31","v2":64.9},
{"d":"2012-01-28","v":64.9,"d2":"2012-08-31","v2":64.9}
]
},
"vconcat":[
{
"width":864,"height":300,
"layer":[
{"data":{"name":"soy"},"mark":{"type":"rule","strokeWidth":1},
"encoding":{
"x":{"field":"d","type":"temporal","title":null,"scale":{"type":"utc","padding":0,"domain":[{"year":2007,"month":8,"date":2,"utc":true},{"year":2013,"month":2,"date":9,"utc":true}]},
"axis":{"title":null,"values":[{"year":2008,"month":1,"date":1,"utc":true},{"year":2008,"month":7,"date":1,"utc":true},{"year":2009,"month":1,"date":1,"utc":true},{"year":2009,"month":7,"date":1,"utc":true},{"year":2010,"month":1,"date":1,"utc":true},{"year":2010,"month":7,"date":1,"utc":true},{"year":2011,"month":1,"date":1,"utc":true},{"year":2011,"month":7,"date":1,"utc":true},{"year":2012,"month":1,"date":1,"utc":true},{"year":2012,"month":7,"date":1,"utc":true},{"year":2013,"month":1,"date":1,"utc":true}],
"labelExpr":"utcFormat(datum.value, '%m') == '01' ? utcFormat(datum.value, '%Y') : ''","grid":true,"gridColor":"#d2d2d2","gridDash":[3,3],"domain":false,"ticks":false,"tickSize":0,"labelPadding":5,"labelFont":"Liberation Sans","labelFontSize":11,"labelColor":"#8a8a8a","labelFlush":false,"labelOverlap":false}},
"y":{"field":"l","type":"quantitative","title":null,"scale":{"domain":[600,1800],"nice":false,"zero":false,"padding":0},
"axis":{"title":null,"orient":"right","values":[600,800,1000,1200,1400,1600,1800],"format":".2f","grid":true,"gridColor":"#d2d2d2","gridDash":[3,3],"domain":false,"ticks":false,"tickSize":0,"labelPadding":10,"labelFont":"Liberation Sans","labelFontSize":11,"labelColor":"#707070","labelFlush":false}},
"y2":{"field":"h"},
"color":{"condition":{"test":"datum.c >= datum.o","value":"#1b6b1b"},"value":"#6b0c0c"}}},
{"data":{"name":"soy"},"mark":{"type":"bar","width":2.4,"strokeWidth":0.7},
"encoding":{
"x":{"field":"d","type":"temporal"},
"y":{"field":"o","type":"quantitative"},
"y2":{"field":"c"},
"fill":{"condition":{"test":"datum.c >= datum.o","value":"#36c236"},"value":"#a31515"},
"stroke":{"condition":{"test":"datum.c >= datum.o","value":"#1b6b1b"},"value":"#6b0c0c"}}},
{"data":{"name":"soyLines","format":{"parse":{"d":"date","d2":"date"}}},"mark":{"type":"rule","color":"#b52029","strokeWidth":1},
"encoding":{"x":{"field":"d","type":"temporal"},"x2":{"field":"d2"},"y":{"field":"v","type":"quantitative"},"y2":{"field":"v2"}}},
{"data":{"name":"soyBox","format":{"parse":{"d":"date","d2":"date"}}},"mark":{"type":"rule","color":"#a3262b","strokeWidth":1.2},
"encoding":{"x":{"field":"d","type":"temporal"},"x2":{"field":"d2"},"y":{"field":"v","type":"quantitative"},"y2":{"field":"v2"}}},
{"data":{"values":[{}]},"mark":{"type":"rule","color":"#8a8a8a","strokeWidth":3},
"encoding":{"x":{"datum":{"year":2007,"month":3,"date":14,"utc":true},"type":"temporal"},"x2":{"datum":{"year":2013,"month":9,"date":17,"utc":true}},"y":{"datum":534.4,"type":"quantitative"}}},
{"data":{"values":[{}]},"mark":{"type":"point","shape":"M-1,-0.7L1,0L-1,0.7Z","size":125,"filled":true,"color":"#e3161e","opacity":1,"angle":357},
"encoding":{"x":{"datum":{"year":2012,"month":9,"date":16,"utc":true},"type":"temporal"},"y":{"datum":1798,"type":"quantitative"}}},
{"data":{"values":[{}]},"mark":{"type":"point","shape":"M-1,-0.7L1,0L-1,0.7Z","size":125,"filled":true,"color":"#e3161e","opacity":1,"angle":347},
"encoding":{"x":{"datum":{"year":2013,"month":2,"date":24,"utc":true},"type":"temporal"},"y":{"datum":1462,"type":"quantitative"}}},
{"data":{"values":[{}]},"mark":{"type":"rect","color":"#fbfb3a","cornerRadius":2},
"encoding":{"x":{"datum":{"year":2013,"month":2,"date":28,"utc":true},"type":"temporal"},"x2":{"datum":{"year":2013,"month":6,"date":6,"utc":true}},"y":{"datum":1457,"type":"quantitative"},"y2":{"datum":1401}}},
{"data":{"values":[{}]},"mark":{"type":"text","text":"1425.60","font":"Liberation Sans","fontSize":11,"color":"#111111","align":"left","baseline":"alphabetic"},
"encoding":{"x":{"datum":{"year":2013,"month":3,"date":4,"utc":true},"type":"temporal"},"y":{"datum":1411,"type":"quantitative"}}},
{"data":{"values":[{}]},"mark":{"type":"text","text":"Soybeans","font":"Liberation Sans","fontSize":32,"fontWeight":"bold","color":"#7f7f7f","align":"left","baseline":"alphabetic"},
"encoding":{"x":{"datum":{"year":2007,"month":4,"date":20,"utc":true},"type":"temporal"},"y":{"datum":1763.2,"type":"quantitative"}}},
{"data":{"values":[{}]},"mark":{"type":"text","text":"FEB 15 2013 02:55 PM","font":"Liberation Sans","fontSize":11,"fontWeight":"bold","color":"#727272","align":"left","baseline":"alphabetic"},
"encoding":{"x":{"datum":{"year":2008,"month":9,"date":7,"utc":true},"type":"temporal"},"y":{"datum":1824,"type":"quantitative"}}},
{"data":{"values":[{}]},"mark":{"type":"text","text":"O:1450.00\u00a0\u00a0\u00a0\u00a0\u00a0H:1450.60\u00a0\u00a0\u00a0\u00a0\u00a0L:1404.40\u00a0\u00a0\u00a0\u00a0\u00a0C:1425.60","font":"Liberation Sans","fontSize":11,"fontWeight":"bold","color":"#727272","align":"left","baseline":"alphabetic"},
"encoding":{"x":{"datum":{"year":2009,"month":12,"date":27,"utc":true},"type":"temporal"},"y":{"datum":1824,"type":"quantitative"}}},
{"data":{"values":[{}]},"mark":{"type":"text","text":"-26.80 (1.85%)","font":"Liberation Sans","fontSize":14,"fontWeight":"bold","color":"#b3242c","align":"left","baseline":"alphabetic"},
"encoding":{"x":{"datum":{"year":2012,"month":4,"date":28,"utc":true},"type":"temporal"},"y":{"datum":1820,"type":"quantitative"}}},
{"data":{"values":[{}]},"mark":{"type":"text","text":"© finviz.com","font":"Liberation Sans","fontSize":10,"color":"#9bb4c8","align":"left","baseline":"alphabetic"},
"encoding":{"x":{"datum":{"year":2013,"month":1,"date":4,"utc":true},"type":"temporal"},"y":{"datum":1833.2,"type":"quantitative"}}},
{"data":{"values":[{}]},"mark":{"type":"text","text":"Timeframe:","font":"DejaVu Sans","fontSize":11.5,"fontWeight":"bold","color":"#5f6f7d","align":"left","baseline":"alphabetic"},
"encoding":{"x":{"datum":{"year":2009,"month":6,"date":19,"utc":true},"type":"temporal"},"y":{"datum":1966.4,"type":"quantitative"}}},
{"data":{"values":[{}]},"mark":{"type":"text","text":"5 minute | hourly | daily |","font":"DejaVu Sans","fontSize":11.5,"color":"#3b7bb5","align":"left","baseline":"alphabetic"},
"encoding":{"x":{"datum":{"year":2009,"month":12,"date":17,"utc":true},"type":"temporal"},"y":{"datum":1966.4,"type":"quantitative"}}},
{"data":{"values":[{}]},"mark":{"type":"text","text":"weekly","font":"DejaVu Sans","fontSize":11.5,"fontWeight":"bold","color":"#1d5e94","align":"left","baseline":"alphabetic"},
"encoding":{"x":{"datum":{"year":2010,"month":12,"date":1,"utc":true},"type":"temporal"},"y":{"datum":1966.4,"type":"quantitative"}}},
{"data":{"values":[{}]},"mark":{"type":"text","text":"WEEKLY","font":"Liberation Sans","fontSize":15,"fontWeight":"bold","color":"#cccccc","align":"center","baseline":"middle","angle":270},
"encoding":{"x":{"datum":{"year":2007,"month":6,"date":17,"utc":true},"type":"temporal"},"y":{"datum":1200,"type":"quantitative"}}}
]
},
{
"width":864,"height":300,
"layer":[
{"data":{"name":"oil"},"mark":{"type":"rule","strokeWidth":1},
"encoding":{
"x":{"field":"d","type":"temporal","title":null,"scale":{"type":"utc","padding":0,"domain":[{"year":2007,"month":8,"date":2,"utc":true},{"year":2013,"month":2,"date":9,"utc":true}]},
"axis":{"title":null,"values":[{"year":2008,"month":1,"date":1,"utc":true},{"year":2008,"month":7,"date":1,"utc":true},{"year":2009,"month":1,"date":1,"utc":true},{"year":2009,"month":7,"date":1,"utc":true},{"year":2010,"month":1,"date":1,"utc":true},{"year":2010,"month":7,"date":1,"utc":true},{"year":2011,"month":1,"date":1,"utc":true},{"year":2011,"month":7,"date":1,"utc":true},{"year":2012,"month":1,"date":1,"utc":true},{"year":2012,"month":7,"date":1,"utc":true},{"year":2013,"month":1,"date":1,"utc":true}],
"labelExpr":"utcFormat(datum.value, '%m') == '01' ? utcFormat(datum.value, '%Y') : ''","grid":true,"gridColor":"#d2d2d2","gridDash":[3,3],"domain":false,"ticks":false,"tickSize":0,"labelPadding":5,"labelFont":"Liberation Sans","labelFontSize":11,"labelColor":"#8a8a8a","labelFlush":false,"labelOverlap":false}},
"y":{"field":"l","type":"quantitative","title":null,"scale":{"domain":[20,160],"nice":false,"zero":false,"padding":0},
"axis":{"title":null,"orient":"right","values":[20,40,60,80,100,120,140,160],"format":".2f","grid":true,"gridColor":"#d2d2d2","gridDash":[3,3],"domain":false,"ticks":false,"tickSize":0,"labelPadding":10,"labelFont":"Liberation Sans","labelFontSize":11,"labelColor":"#707070","labelFlush":false}},
"y2":{"field":"h"},
"color":{"condition":{"test":"datum.c >= datum.o","value":"#1b6b1b"},"value":"#6b0c0c"}}},
{"data":{"name":"oil"},"mark":{"type":"bar","width":2.4,"strokeWidth":0.7},
"encoding":{
"x":{"field":"d","type":"temporal"},
"y":{"field":"o","type":"quantitative"},
"y2":{"field":"c"},
"fill":{"condition":{"test":"datum.c >= datum.o","value":"#36c236"},"value":"#a31515"},
"stroke":{"condition":{"test":"datum.c >= datum.o","value":"#1b6b1b"},"value":"#6b0c0c"}}},
{"data":{"name":"oilLines","format":{"parse":{"d":"date","d2":"date"}}},"mark":{"type":"rule","color":"#b52029","strokeWidth":1},
"encoding":{"x":{"field":"d","type":"temporal"},"x2":{"field":"d2"},"y":{"field":"v","type":"quantitative"},"y2":{"field":"v2"}}},
{"data":{"name":"oilBox","format":{"parse":{"d":"date","d2":"date"}}},"mark":{"type":"rule","color":"#a3262b","strokeWidth":1.2},
"encoding":{"x":{"field":"d","type":"temporal"},"x2":{"field":"d2"},"y":{"field":"v","type":"quantitative"},"y2":{"field":"v2"}}},
{"data":{"values":[{}]},"mark":{"type":"point","shape":"M-1,-0.75L1,0L-1,0.75Z","size":130,"filled":true,"color":"#e3161e","opacity":1,"angle":8},
"encoding":{"x":{"datum":{"year":2013,"month":3,"date":12,"utc":true},"type":"temporal"},"y":{"datum":104.8,"type":"quantitative"}}},
{"data":{"values":[{}]},"mark":{"type":"point","shape":"M-1,-0.75L1,0L-1,0.75Z","size":130,"filled":true,"color":"#e3161e","opacity":1,"angle":350},
"encoding":{"x":{"datum":{"year":2013,"month":2,"date":10,"utc":true},"type":"temporal"},"y":{"datum":95.65,"type":"quantitative"}}},
{"data":{"values":[{}]},"mark":{"type":"rect","color":"#fbfb3a","cornerRadius":2},
"encoding":{"x":{"datum":{"year":2013,"month":2,"date":28,"utc":true},"type":"temporal"},"x2":{"datum":{"year":2013,"month":5,"date":6,"utc":true}},"y":{"datum":99.0,"type":"quantitative"},"y2":{"datum":93.0}}},
{"data":{"values":[{}]},"mark":{"type":"text","text":"96.08","font":"Liberation Sans","fontSize":11,"color":"#111111","align":"left","baseline":"alphabetic"},
"encoding":{"x":{"datum":{"year":2013,"month":3,"date":4,"utc":true},"type":"temporal"},"y":{"datum":94.1,"type":"quantitative"}}},
{"data":{"values":[{}]},"mark":{"type":"text","text":"Crude Oil","font":"Liberation Sans","fontSize":32,"fontWeight":"bold","color":"#7f7f7f","align":"left","baseline":"alphabetic"},
"encoding":{"x":{"datum":{"year":2007,"month":4,"date":17,"utc":true},"type":"temporal"},"y":{"datum":155.56,"type":"quantitative"}}},
{"data":{"values":[{}]},"mark":{"type":"text","text":"FEB 15 2013 05:10 PM","font":"Liberation Sans","fontSize":11,"fontWeight":"bold","color":"#727272","align":"left","baseline":"alphabetic"},
"encoding":{"x":{"datum":{"year":2008,"month":9,"date":4,"utc":true},"type":"temporal"},"y":{"datum":163.0,"type":"quantitative"}}},
{"data":{"values":[{}]},"mark":{"type":"text","text":"O:95.79\u00a0\u00a0\u00a0\u00a0\u00a0H:98.11\u00a0\u00a0\u00a0\u00a0\u00a0L:94.97\u00a0\u00a0\u00a0\u00a0\u00a0C:96.08","font":"Liberation Sans","fontSize":11,"fontWeight":"bold","color":"#727272","align":"left","baseline":"alphabetic"},
"encoding":{"x":{"datum":{"year":2009,"month":12,"date":20,"utc":true},"type":"temporal"},"y":{"datum":163.0,"type":"quantitative"}}},
{"data":{"values":[{}]},"mark":{"type":"text","text":"+0.36 (0.38%)","font":"Liberation Sans","fontSize":14,"fontWeight":"bold","color":"#2f9a2f","align":"left","baseline":"alphabetic"},
"encoding":{"x":{"datum":{"year":2012,"month":5,"date":6,"utc":true},"type":"temporal"},"y":{"datum":162.57,"type":"quantitative"}}},
{"data":{"values":[{}]},"mark":{"type":"text","text":"© finviz.com","font":"Liberation Sans","fontSize":10,"color":"#9bb4c8","align":"left","baseline":"alphabetic"},
"encoding":{"x":{"datum":{"year":2013,"month":1,"date":3,"utc":true},"type":"temporal"},"y":{"datum":164.9,"type":"quantitative"}}},
{"data":{"values":[{}]},"mark":{"type":"text","text":"WEEKLY","font":"Liberation Sans","fontSize":15,"fontWeight":"bold","color":"#cccccc","align":"center","baseline":"middle","angle":270},
"encoding":{"x":{"datum":{"year":2007,"month":6,"date":17,"utc":true},"type":"temporal"},"y":{"datum":90,"type":"quantitative"}}},
{"data":{"values":[{}]},"mark":{"type":"text","text":"CRUDE OIL LIGHT SWEET","font":"Liberation Sans","fontSize":15,"color":"#9a9a9a","align":"left","baseline":"top"},
"encoding":{"x":{"datum":{"year":2007,"month":4,"date":15,"utc":true},"type":"temporal"},"y":{"datum":10.23,"type":"quantitative"}}},
{"data":{"values":[{}]},"mark":{"type":"text","text":"稻客外汇","font":"Noto Sans CJK SC","fontSize":20,"fontWeight":"bold","color":"#000000","align":"left","baseline":"alphabetic"},
"encoding":{"x":{"datum":{"year":2007,"month":4,"date":7,"utc":true},"type":"temporal"},"y":{"datum":9.77,"type":"quantitative"}}},
{"data":{"values":[{}]},"mark":{"type":"text","text":"talkforex.com","font":"Liberation Sans","fontSize":14,"fontWeight":"bold","color":"#000000","align":"left","baseline":"alphabetic"},
"encoding":{"x":{"datum":{"year":2007,"month":10,"date":23,"utc":true},"type":"temporal"},"y":{"datum":10.23,"type":"quantitative"}}}
]
}
]
}
